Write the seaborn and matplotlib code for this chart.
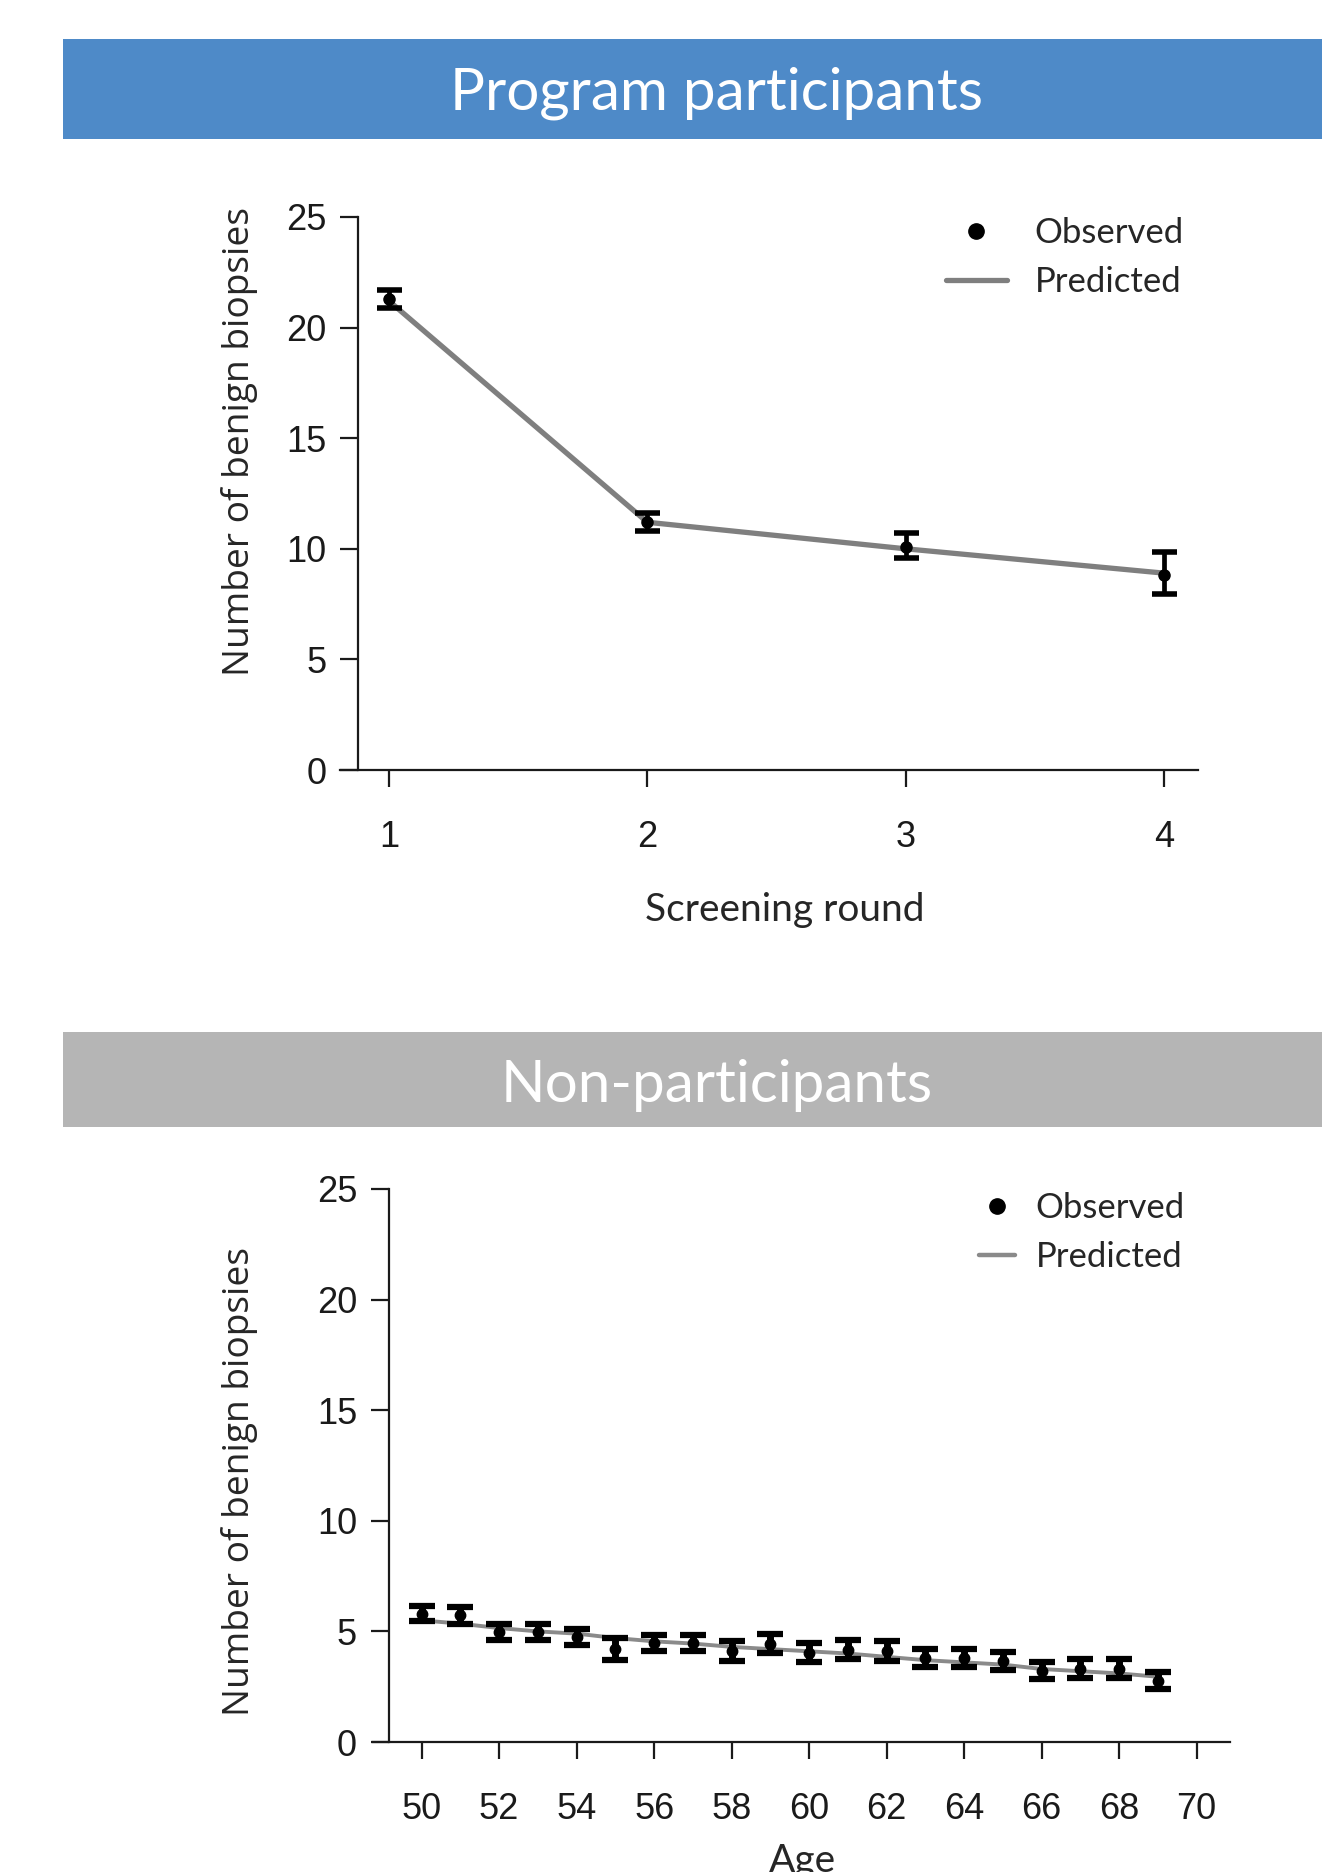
import numpy as np
import pandas as pd
import matplotlib
matplotlib.use("Agg")
import matplotlib.pyplot as plt
from matplotlib.patches import Rectangle
from matplotlib.lines import Line2D
import seaborn as sns

# ---------------- data ----------------
rounds = [1, 2, 3, 4]
round_obs = [21.3, 11.2, 10.1, 8.8]
round_lo = [20.9, 10.8, 9.6, 7.95]
round_hi = [21.7, 11.6, 10.7, 9.85]
round_pred = [21.2, 11.2, 10.0, 8.9]

ages = list(range(50, 70))
age_obs = [5.80, 5.72, 4.96, 4.96, 4.74, 4.20, 4.48, 4.48, 4.10, 4.44,
           4.04, 4.17, 4.10, 3.80, 3.80, 3.66, 3.23, 3.32, 3.32, 2.78]
age_err = [0.35, 0.40, 0.37, 0.37, 0.37, 0.48, 0.37, 0.37, 0.46, 0.42,
           0.42, 0.42, 0.45, 0.42, 0.42, 0.42, 0.38, 0.42, 0.42, 0.38]
age_pred = [5.50, 5.35, 5.15, 5.00, 4.90, 4.70, 4.55, 4.45, 4.30, 4.20,
            4.10, 4.00, 3.85, 3.70, 3.60, 3.50, 3.30, 3.20, 3.10, 2.95]

round_ticks = [1, 2, 3, 4]
age_ticks = list(range(50, 71, 2))
y_ticks = [0, 5, 10, 15, 20, 25]

title_top = "Program participants"
title_bottom = "Non-participants"
ylabel = "Number of benign biopsies"
xlabel_top = "Screening round"
xlabel_bottom = "Age"

# ---------------- style ----------------
sns.set_style("ticks")
plt.rcParams["font.family"] = ["Liberation Sans", "DejaVu Sans"]

W, H = 1322, 1872
fig = plt.figure(figsize=(W / 100, H / 100), dpi=100)


def fx(px):
    return px / W


def fy(py):
    return 1 - py / H


TICK_FONT = ["Liberation Sans", "DejaVu Sans"]
LABEL_FONT = ["Lato", "DejaVu Sans"]
YLAB_FONT = ["Open Sans", "DejaVu Sans"]

# banners
fig.add_artist(Rectangle((fx(63), fy(139)), fx(1322) - fx(63), 100 / H,
                         transform=fig.transFigure, color="#4e8ac8", lw=0))
fig.text(fx(717), fy(93), title_top, ha="center", va="center", color="white",
         fontsize=42, family=LABEL_FONT)
fig.add_artist(Rectangle((fx(63), fy(1127)), fx(1322) - fx(63), 95 / H,
                         transform=fig.transFigure, color="#b5b5b5", lw=0))
fig.text(fx(717), fy(1085), title_bottom, ha="center", va="center", color="white",
         fontsize=42, family=LABEL_FONT)


def style_axes(ax, spine_x):
    ax.spines["top"].set_visible(False)
    ax.spines["right"].set_visible(False)
    ax.spines["left"].set_position(("data", spine_x))
    for s in ("left", "bottom"):
        ax.spines[s].set_linewidth(1.6)
        ax.spines[s].set_color("#1a1a1a")
    ax.set_ylim(0, 25)
    ax.set_yticks(y_ticks)
    ax.tick_params(axis="y", length=13, width=1.6, pad=10, labelsize=26,
                   colors="#1a1a1a")
    ax.tick_params(axis="x", length=12, width=1.6, pad=24, labelsize=26,
                   colors="#1a1a1a")
    for lab in ax.get_xticklabels() + ax.get_yticklabels():
        lab.set_family(TICK_FONT)


# ---------------- top panel ----------------
ax1 = fig.add_axes([fx(340), fy(770), (1198 - 340) / W, 553 / H])
df1 = pd.DataFrame({"x": rounds, "pred": round_pred})
sns.lineplot(data=df1, x="x", y="pred", ax=ax1, color="#7f7f7f", linewidth=3.8,
             zorder=2)
obs1 = np.array(round_obs)
ax1.errorbar(rounds, obs1, yerr=[obs1 - np.array(round_lo), np.array(round_hi) - obs1],
             fmt="o", color="black", ms=8, capsize=9, capthick=4,
             elinewidth=3.4, zorder=3)
ax1.set_xlim(0.81, 4.132)
ax1.set_xticks(round_ticks)
style_axes(ax1, 0.88)
ax1.set_xlabel(xlabel_top, fontsize=28, family=LABEL_FONT, va="center")
ax1.xaxis.set_label_coords((785 - 340) / 858, (770 - 910) / 553)
ax1.set_ylabel(ylabel, fontsize=26.7, family=YLAB_FONT, va="center")
ax1.yaxis.set_label_coords((239 - 340) / 858, (770 - 442) / 553)

h_obs = Line2D([], [], marker="o", ls="none", color="black", ms=11)
h_pred1 = Line2D([], [], color="#7f7f7f", lw=3.8)
ax1.legend([h_obs, h_pred1], ["Observed", "Predicted"], loc="upper left",
           bbox_to_anchor=(fx(946), fy(217)), bbox_transform=fig.transFigure,
           frameon=False, borderpad=0, borderaxespad=0, handlelength=1.75,
           handletextpad=0.8, labelspacing=0.48,
           prop={"family": LABEL_FONT, "size": 25})

# ---------------- bottom panel ----------------
ax2 = fig.add_axes([fx(373), fy(1742), (1230 - 373) / W, 553 / H])
df2 = pd.DataFrame({"age": ages, "pred": age_pred})
sns.lineplot(data=df2, x="age", y="pred", ax=ax2, color="#8a8a8a", linewidth=2.8,
             zorder=2)
ax2.errorbar(ages, age_obs, yerr=age_err, fmt="o", color="black", ms=7.5,
             capsize=9.5, capthick=4.5, elinewidth=5, zorder=3)
ax2.set_xlim(48.744, 70.86)
ax2.set_xticks(age_ticks)
style_axes(ax2, 49.156)
ax2.set_xlabel(xlabel_bottom, fontsize=28, family=LABEL_FONT, va="top")
ax2.xaxis.set_label_coords((802 - 373) / 857, (1742 - 1843) / 553)
ax2.set_ylabel(ylabel, fontsize=26.7, family=YLAB_FONT, va="center")
ax2.yaxis.set_label_coords((239 - 373) / 857, (1742 - 1482) / 553)

h_pred2 = Line2D([], [], color="#8a8a8a", lw=3.2)
ax2.legend([h_obs, h_pred2], ["Observed", "Predicted"], loc="upper left",
           bbox_to_anchor=(fx(979), fy(1192)), bbox_transform=fig.transFigure,
           frameon=False, borderpad=0, borderaxespad=0, handlelength=1.05,
           handletextpad=0.58, labelspacing=0.48,
           prop={"family": LABEL_FONT, "size": 25})

fig.savefig("out.png", dpi=100)
